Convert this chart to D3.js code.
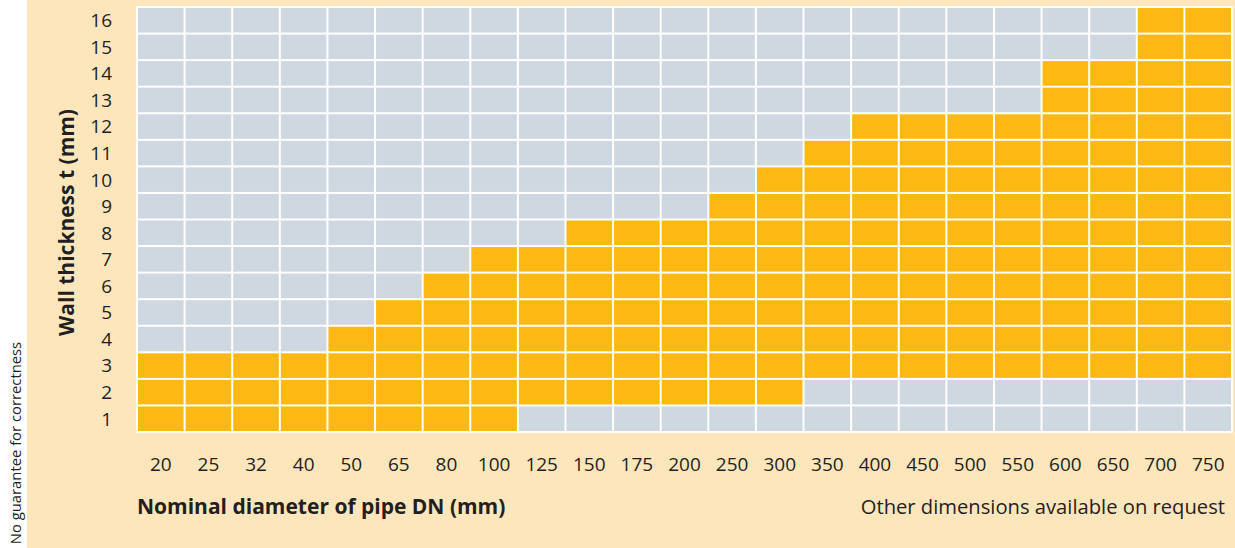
<!DOCTYPE html>
<html><head><meta charset="utf-8">
<script src="https://cdn.jsdelivr.net/npm/d3@7/dist/d3.min.js"></script>
<style>html,body{margin:0;padding:0;background:#fff;}svg{display:block;}</style>
</head><body>
<script>
const diameters = ["20","25","32","40","50","65","80","100","125","150","175","200","250","300","350","400","450","500","550","600","650","700","750"];
const minThickness = [1,1,1,1,1,1,1,1,2,2,2,2,2,2,3,3,3,3,3,3,3,3,3];
const maxThickness = [3,3,3,3,4,5,6,7,7,8,8,8,9,10,11,12,12,12,12,14,14,16,16];
const thicknesses = d3.range(1,17);

const W=1235,H=548;
const svg=d3.select("body").append("svg").attr("width",W).attr("height",H);
const font="'Open Sans', sans-serif";
const ink="#231f20";
svg.append("rect").attr("x",27).attr("y",0).attr("width",W-27).attr("height",H).attr("fill","#fde6bb");

const L=137,R=1232,T=7,B=432;
const x=d3.scaleBand().domain(diameters).range([L,R]).padding(0);
const y=d3.scaleBand().domain(thicknesses).range([B,T]).padding(0);

svg.append("rect").attr("x",L-1).attr("y",T-1).attr("width",R-L+2).attr("height",B-T+2).attr("fill","#fff");

const cells=[];
diameters.forEach((d,i)=>thicknesses.forEach(t=>cells.push({d,t,on:t>=minThickness[i]&&t<=maxThickness[i]})));
svg.append("g").selectAll("rect").data(cells).join("rect")
  .attr("x",c=>x(c.d)+1).attr("y",c=>y(c.t)+1)
  .attr("width",x.bandwidth()-2).attr("height",y.bandwidth()-2)
  .attr("fill",c=>c.on?"#fdb913":"#cfd8e0");

const yAxis=svg.append("g").attr("transform",`translate(${L-25},0)`).call(d3.axisLeft(y).tickSize(0).tickPadding(0));
yAxis.select(".domain").remove();
yAxis.selectAll("text").attr("font-family",font).attr("font-size",19).attr("fill",ink).attr("dy","0.36em");

const xAxis=svg.append("g").attr("transform",`translate(0,${B+25})`).call(d3.axisBottom(x).tickSize(0).tickPadding(0));
xAxis.select(".domain").remove();
xAxis.selectAll("text").attr("font-family",font).attr("font-size",19).attr("fill",ink).attr("dy","0.72em");

svg.append("text").attr("x",L).attr("y",514).attr("font-family",font).attr("font-size",21).attr("font-weight","bold").attr("fill",ink).text("Nominal diameter of pipe DN (mm)");
svg.append("text").attr("x",1225).attr("y",514).attr("text-anchor","end").attr("font-family",font).attr("font-size",20.2).attr("fill",ink).text("Other dimensions available on request");
svg.append("text").attr("transform",`translate(74,${(T+B)/2+3}) rotate(-90)`).attr("text-anchor","middle").attr("font-family",font).attr("font-size",21).attr("font-weight","bold").attr("fill",ink).text("Wall thickness t (mm)");
svg.append("text").attr("transform",`translate(21,443) rotate(-90)`).attr("text-anchor","middle").attr("font-family",font).attr("font-size",14.8).attr("fill",ink).text("No guarantee for correctness");
</script>
</body></html>
